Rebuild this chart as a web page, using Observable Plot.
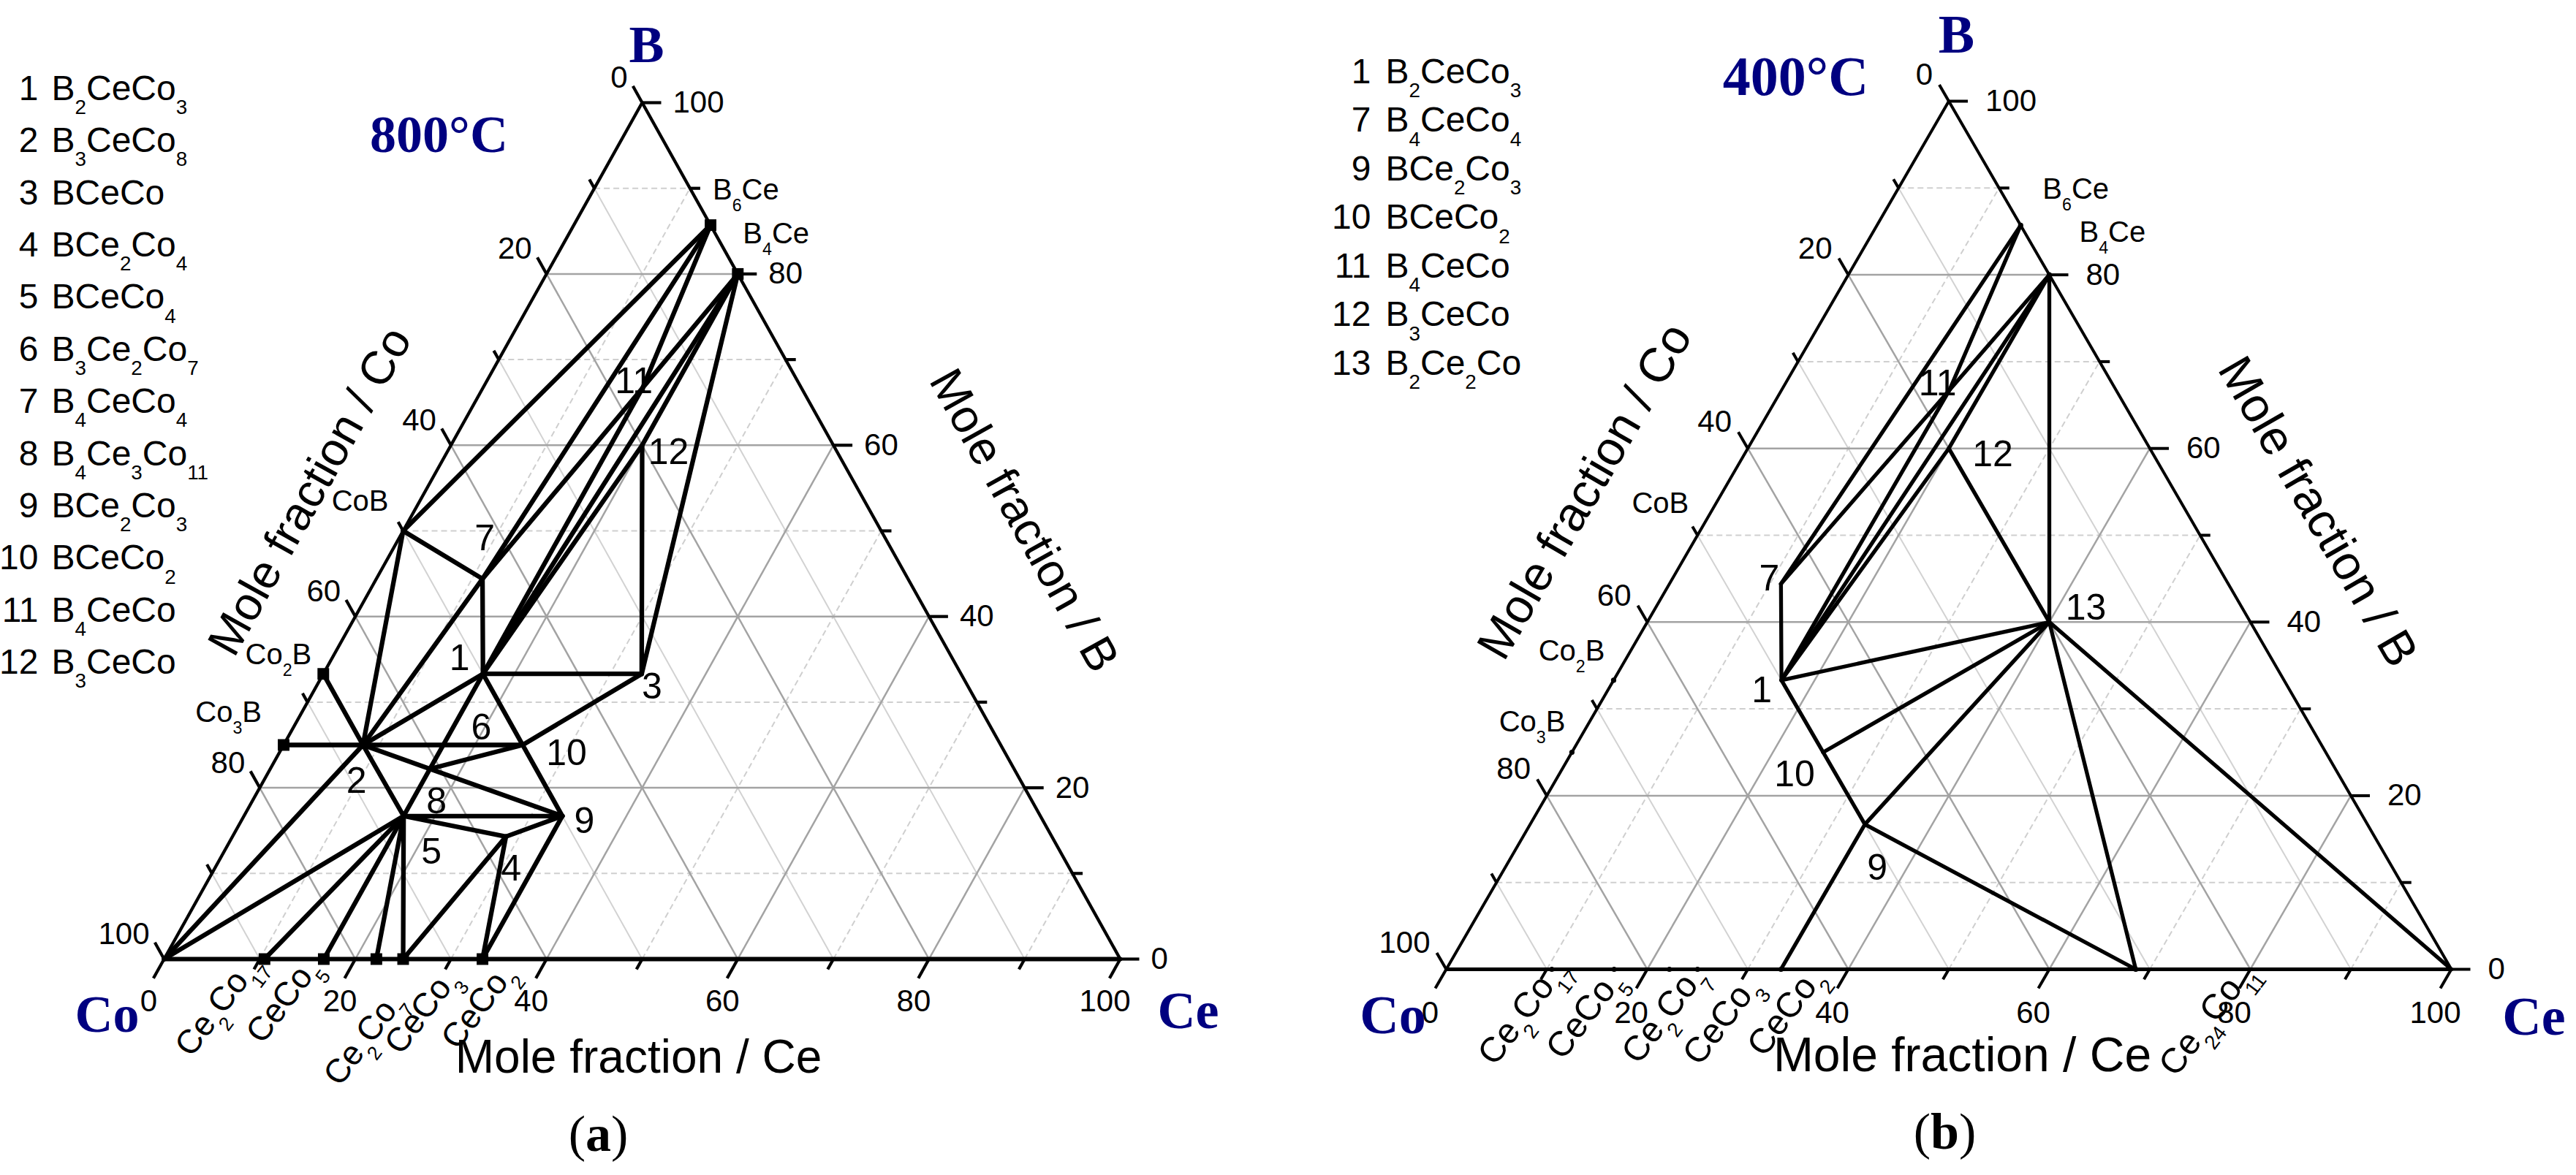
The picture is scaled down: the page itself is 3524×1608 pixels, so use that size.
<!DOCTYPE html>
<html><head><meta charset="utf-8">
<script src="https://cdn.jsdelivr.net/npm/d3@7"></script>
<script src="https://cdn.jsdelivr.net/npm/@observablehq/plot@0.6"></script>
<style>
body{margin:0;background:#fff;}
#fig{position:relative;width:3524px;height:1608px;overflow:hidden;background:#fff;}
#fig svg{position:absolute;top:0;overflow:visible;}
</style></head><body><div id="fig"></div>
<script>
// ---------- DATA (mole %, Co = 100 - B - Ce) ----------
const phaseNames = ["Co","Ce","B","B6Ce","B4Ce","CoB","Co2B","Co3B","Ce2Co17","CeCo5","Ce2Co7","CeCo3","CeCo2","Ce24Co11",
                    "1","2","3","4","5","6","7","8","9","10","11","12","13"];
const phaseB  = [0,0,100,85.7,80,50,33.3,25,0,0,0,0,0,0,
                 33.3,25,33.3,14.3,16.7,25,44.4,22.2,16.7,25,66.7,60,40];
const phaseCe = [0,100,0,14.3,20,0,0,0,10.5,16.7,22.2,25,33.3,68.6,
                 16.7,8.3,33.3,28.6,16.7,16.7,11.1,16.7,33.3,25,16.7,20,40];

const ties800 = [["CoB","B6Ce"],["CoB","7"],["CoB","2"],["Co2B","2"],["Co3B","2"],["Co","2"],["Co","5"],
  ["B6Ce","7"],["B6Ce","11"],["B4Ce","11"],["11","7"],["7","1"],["7","2"],["11","1"],["B4Ce","1"],
  ["B4Ce","12"],["12","1"],["12","3"],["B4Ce","3"],["1","3"],["1","2"],["1","8"],["1","10"],["2","10"],
  ["2","8"],["2","5"],["8","5"],["8","10"],["8","9"],["10","9"],["10","3"],["5","9"],["5","4"],["4","9"],
  ["5","Ce2Co17"],["5","CeCo5"],["5","Ce2Co7"],["5","CeCo3"],["CeCo3","4"],["CeCo2","4"],["CeCo2","9"]];
const ties400 = [["B6Ce","7"],["B6Ce","11"],["B4Ce","11"],["11","7"],["11","1"],["B4Ce","1"],["B4Ce","12"],
  ["12","1"],["12","13"],["B4Ce","13"],["7","1"],["1","10"],["10","9"],["1","13"],["10","13"],["9","13"],
  ["CeCo2","9"],["9","Ce24Co11"],["13","Ce24Co11"],["13","Ce"]];

const markers800 = ["B6Ce","B4Ce","Co2B","Co3B","Ce2Co17","CeCo5","Ce2Co7","CeCo3","CeCo2"];
const markers400 = ["B6Ce","B4Ce","Co2B","Co3B","Ce2Co17","CeCo5","Ce2Co7","CeCo3","CeCo2","Ce24Co11"];

const legendNums800 = ["1","2","3","4","5","6","7","8","9","10","11","12"];
const legendFormulas800 = ["B_2CeCo_3","B_3CeCo_8","BCeCo","BCe_2Co_4","BCeCo_4","B_3Ce_2Co_7","B_4CeCo_4",
  "B_4Ce_3Co_11","BCe_2Co_3","BCeCo_2","B_4CeCo","B_3CeCo"];
const legendNums400 = ["1","7","9","10","11","12","13"];
const legendFormulas400 = ["B_2CeCo_3","B_4CeCo_4","BCe_2Co_3","BCeCo_2","B_4CeCo","B_3CeCo","B_2Ce_2Co"];

const phaseLabels800 = ["1","2","3","4","5","6","7","8","9","10","11","12"];
const phaseLabels400 = ["1","7","9","10","11","12","13"];

const edgeNames = {B6Ce:"B_6Ce",B4Ce:"B_4Ce",CoB:"CoB",Co2B:"Co_2B",Co3B:"Co_3B",
  Ce2Co17:"Ce_2Co_17",CeCo5:"CeCo_5",Ce2Co7:"Ce_2Co_7",CeCo3:"CeCo_3",CeCo2:"CeCo_2",Ce24Co11:"Ce_24Co_11"};
const bottomCompounds800 = ["Ce2Co17","CeCo5","Ce2Co7","CeCo3","CeCo2"];
const bottomCompounds400 = ["Ce2Co17","CeCo5","Ce2Co7","CeCo3","CeCo2","Ce24Co11"];
const sideCompounds = ["B6Ce","B4Ce","CoB","Co2B","Co3B"];

const gridValues = [10,20,30,40,50,60,70,80,90];
const axisValues = [0,10,20,30,40,50,60,70,80,90,100];
const axisLabelValues = [0,20,40,60,80,100];

// ---------- LAYOUT ----------
const PH = Object.fromEntries(phaseNames.map((n,i)=>[n,{name:n,B:phaseB[i],Ce:phaseCe[i]}]));

const panelA = {
  left:0, width:1762, co:224, ce:1532, base:1312, apex:140,
  tieW:6.3, edgeW:4.3, baseW:5.8, tickW:4.2,
  ties:ties800, markers:markers800, markerR:9, markerSymbol:"square",
  legendNums:legendNums800, legendFormulas:legendFormulas800,
  legend:{numEnd:52, fStart:70, y0:121, dy:71.4, size:48},
  temp:{text:"800°C", x:600, y:184, size:72},
  corners:{B:[884,61], Co:[146,1388], Ce:[1625,1383], size:72},
  tag:{text:"(*a*)", x:818, y:1552, size:70},
  titles:{left:[424,672], right:[1400,712], bottom:[873,1447], size:64},
  tickLabel:{size:42, right:42, leftDx:-20, leftDy:-34, botDx:-21, botDy:58},
  numLabels:phaseLabels800, numSize:50,
  numOff:{"1":[-32,-21],"2":[-9,49],"3":[14,18],"4":[7,44],"5":[38,49],"6":[52,-24],"7":[3,-55],
          "8":[9,45],"9":[30,7],"10":[60,11],"11":[-12,-9],"12":[36,10]},
  side:{B6Ce:["start",3,-48],B4Ce:["start",7,-55],CoB:["end",-20,-40],Co2B:["end",-16,-26],Co3B:["end",-30,-44]},
  sideSize:40,
  bottom:bottomCompounds800, botSize:46, botRot:-53,
  botOff:{Ce2Co17:[-100,136],CeCo5:[-84,118],Ce2Co7:[-50,176],CeCo3:[-3,133],CeCo2:[-34,126]}
};
const panelB = {
  left:1762, width:1762, co:1978-1762, ce:3353-1762, base:1326, apex:138,
  tieW:5.3, edgeW:4, baseW:5, tickW:4,
  ties:ties400, markers:markers400, markerR:3.6, markerSymbol:"circle",
  legendNums:legendNums400, legendFormulas:legendFormulas400,
  legend:{numEnd:1875, fStart:1895, y0:98, dy:66.5, size:48},
  temp:{text:"400°C", x:2456, y:105, size:76},
  corners:{B:[2676,48], Co:[1905,1390], Ce:[3466,1392], size:74},
  tag:{text:"(*b*)", x:2660, y:1549, size:70},
  titles:{left:[2168,672], right:[3170,700], bottom:[2684,1444], size:66},
  tickLabel:{size:42, right:50, leftDx:-22, leftDy:-36, botDx:-22, botDy:60},
  numLabels:phaseLabels400, numSize:50,
  numOff:{"1":[-27,14],"7":[-16,-7],"9":[17,60],"10":[-39,30],"11":[-16,-9],"12":[60,8],"13":[50,-19]},
  side:{B6Ce:["start",30,-49],B4Ce:["start",41,-58],CoB:["end",-12,-43],Co2B:["end",-12,-40],Co3B:["end",-9,-41]},
  sideSize:40,
  bottom:bottomCompounds400, botSize:48, botRot:-53,
  botOff:{Ce2Co17:[-78,134],CeCo5:[-70,126],Ce2Co7:[-42,132],CeCo3:[3,134],CeCo2:[-23,122],Ce24Co11:[55,149]}
};

const SANS = "'Liberation Sans', Arial, sans-serif";
const SERIF = "'Liberation Serif', 'Times New Roman', serif";
const NAVY = "#000080";

function makePanel(cfg){
  const W = cfg.ce - cfg.co, H = cfg.base - cfg.apex;
  const X = p => p.Ce/100 + p.B/200, Y = p => p.B/100;
  const ux = gx => (gx - cfg.left - cfg.co)/W;
  const uy = gy => (cfg.base - gy)/H;
  const pt = (B,Ce) => ({B,Ce});
  const seg = (a,b,extra={}) => ({x1:X(a),y1:Y(a),x2:X(b),y2:Y(b),...extra});
  const ang = Math.atan2(H, W/2)*180/Math.PI;

  const grid = [];
  for (const v of gridValues){
    const major = v % 20 === 0;
    grid.push(seg(pt(v,0), pt(v,100-v), {kind: major?"major":"dash"}));     // constant B
    grid.push(seg(pt(0,v), pt(100-v,v), {kind: major?"major":"dash"}));     // constant Ce
    grid.push(seg(pt(100-v,0), pt(0,100-v), {kind: major?"major":"light"})); // constant Co
  }
  const sides = [seg(pt(0,0),pt(100,0)), seg(pt(100,0),pt(0,100))];
  const bottom = [seg(pt(0,0),pt(0,100))];
  const slant = Math.hypot(W/2, H);
  const ticks = [];
  for (const v of axisValues){
    const major = v % 20 === 0;
    const tb = (major ? 30 : 16)/slant, tl = (major ? 26 : 14)/slant, tr = (major ? 26 : 14)/W;
    ticks.push({x1:v/100, y1:0, x2:v/100 - tb/2, y2:-tb});                 // bottom, Ce = v
    const Bl = (100-v)/100;
    ticks.push({x1:Bl/2, y1:Bl, x2:-tl + (Bl+tl)/2, y2:Bl+tl});            // left, Co = v
    const Br = v/100, Cer = (100-v)/100;
    ticks.push({x1:Cer+Br/2, y1:Br, x2:Cer+tr+Br/2, y2:Br});               // right, B = v
  }
  const tl = cfg.tickLabel;
  const rightLabels = axisLabelValues.map(v => ({x:X(pt(v,100-v)) + tl.right/W, y:v/100, text:String(v)}));
  const leftLabels = axisLabelValues.map(v => ({x:X(pt(100-v,0)) + tl.leftDx/W, y:(100-v)/100 - tl.leftDy/H, text:String(v)}));
  const botLabels = axisLabelValues.map(v => ({x:v/100 + tl.botDx/W, y:-tl.botDy/H, text:String(v)}));

  const ties = cfg.ties.map(([a,b]) => seg(PH[a], PH[b]));
  const marks = cfg.markers.map(n => PH[n]);

  const num = cfg.numLabels.map(n => ({x:X(PH[n]) + cfg.numOff[n][0]/W, y:Y(PH[n]) - cfg.numOff[n][1]/H, text:n}));
  const sideStart = [], sideEnd = [];
  for (const n of sideCompounds){
    const [anchor, ox, oy] = cfg.side[n];
    (anchor === "start" ? sideStart : sideEnd).push({x:X(PH[n]) + ox/W, y:Y(PH[n]) - oy/H, text:edgeNames[n]});
  }
  const botComp = cfg.bottom.map(n => ({x:X(PH[n]) + cfg.botOff[n][0]/W, y:Y(PH[n]) - cfg.botOff[n][1]/H, text:edgeNames[n]}));

  const lg = cfg.legend;
  const legNums = cfg.legendNums.map((t,i) => ({x:ux(lg.numEnd), y:uy(lg.y0 + i*lg.dy), text:t}));
  const legForm = cfg.legendFormulas.map((t,i) => ({x:ux(lg.fStart), y:uy(lg.y0 + i*lg.dy), text:t}));

  const at = ([gx,gy], text) => ({x:ux(gx), y:uy(gy), text});
  const C = cfg.corners, Ti = cfg.titles;
  const L = {x1:"x1",y1:"y1",x2:"x2",y2:"y2"};
  const T = {x:"x",y:"y",text:"text"};

  const svg = Plot.plot({
    width:cfg.width, height:1608, margin:0,
    x:{domain:[0,1], range:[cfg.co, cfg.ce], axis:null},
    y:{domain:[0,1], range:[cfg.base, cfg.apex], axis:null},
    style:{fontFamily:SANS, background:"transparent", overflow:"visible"},
    marks:[
      Plot.link(grid.filter(g=>g.kind==="light"), {...L, stroke:"#d2d2d2", strokeWidth:2}),
      Plot.link(grid.filter(g=>g.kind==="dash"), {...L, stroke:"#cfcfcf", strokeWidth:2, strokeDasharray:"8,5"}),
      Plot.link(grid.filter(g=>g.kind==="major"), {...L, stroke:"#a3a3a3", strokeWidth:2.5}),
      Plot.link(ticks, {...L, stroke:"#000", strokeWidth:cfg.tickW}),
      Plot.link(sides, {...L, stroke:"#000", strokeWidth:cfg.edgeW, strokeLinecap:"round"}),
      Plot.link(bottom, {...L, stroke:"#000", strokeWidth:cfg.baseW, strokeLinecap:"round"}),
      Plot.link(ties, {...L, stroke:"#000", strokeWidth:cfg.tieW, strokeLinecap:"round"}),
      Plot.dot(marks, {x:X, y:Y, r:cfg.markerR, symbol:cfg.markerSymbol, fill:"#000", stroke:"none"}),
      Plot.text(rightLabels, {...T, fontSize:tl.size, textAnchor:"start", ariaLabel:"narrow-0.88"}),
      Plot.text(leftLabels, {...T, fontSize:tl.size, textAnchor:"end", ariaLabel:"narrow-0.88"}),
      Plot.text(botLabels, {...T, fontSize:tl.size, textAnchor:"middle", ariaLabel:"narrow-0.88"}),
      Plot.text(sideStart, {...T, fontSize:cfg.sideSize, textAnchor:"start"}),
      Plot.text(sideEnd, {...T, fontSize:cfg.sideSize, textAnchor:"end"}),
      Plot.text(botComp, {...T, fontSize:cfg.botSize, textAnchor:"start", lineAnchor:"bottom", rotate:cfg.botRot}),
      Plot.text(num, {...T, fontSize:cfg.numSize, textAnchor:"middle", ariaLabel:"narrow-0.9"}),
      Plot.text(legNums, {...T, fontSize:lg.size, textAnchor:"end"}),
      Plot.text(legForm, {...T, fontSize:lg.size, textAnchor:"start"}),
      Plot.text([at(Ti.left,"Mole fraction / Co")], {...T, fontSize:Ti.size, rotate:-ang, ariaLabel:"narrow-0.92"}),
      Plot.text([at(Ti.right,"Mole fraction / B")], {...T, fontSize:Ti.size, rotate:ang, ariaLabel:"narrow-0.92"}),
      Plot.text([at(Ti.bottom,"Mole fraction / Ce")], {...T, fontSize:Ti.size, ariaLabel:"narrow-0.92"}),
      Plot.text([at(C.B,"B"), at(C.Co,"Co"), at(C.Ce,"Ce")], {...T, fontSize:C.size, fontFamily:SERIF, fontWeight:"bold", fill:NAVY}),
      Plot.text([at([cfg.temp.x,cfg.temp.y], cfg.temp.text)], {...T, fontSize:cfg.temp.size, fontFamily:SERIF, fontWeight:"bold", fill:NAVY}),
      Plot.text([at([cfg.tag.x,cfg.tag.y], cfg.tag.text)], {...T, fontSize:cfg.tag.size, fontFamily:SERIF})
    ]
  });
  svg.style.left = cfg.left + "px";
  return svg;
}

// narrow (condensed) look for some sans texts
function narrow(root){
  root.querySelectorAll('g[aria-label^="narrow-"]').forEach(g => {
    const s = parseFloat(g.getAttribute("aria-label").slice(7));
    g.querySelectorAll("text").forEach(t => {
      let tr = t.getAttribute("transform");
      if (!tr){
        const x = +(t.getAttribute("x") || 0), y = +(t.getAttribute("y") || 0);
        t.removeAttribute("x"); t.removeAttribute("y");
        tr = `translate(${x},${y})`;
      }
      t.setAttribute("transform", tr + ` scale(${s},1)`);
    });
  });
}

function richText(root){
  root.querySelectorAll("text").forEach(t => {
    const s = t.textContent;
    if (!/[_*]/.test(s)) return;
    const F = parseFloat(getComputedStyle(t).fontSize) || 40;
    while (t.firstChild) t.removeChild(t.firstChild);
    const re = /_(\d+)|\*([^*]+)\*|([^_*]+)/g;
    let m, shifted = false;
    while ((m = re.exec(s))){
      const ts = document.createElementNS("http://www.w3.org/2000/svg","tspan");
      if (m[1] !== undefined){
        ts.textContent = m[1];
        ts.setAttribute("font-size", (0.58*F).toFixed(1));
        if (!shifted){ ts.setAttribute("dy", (0.4*F).toFixed(1)); shifted = true; }
      } else {
        ts.textContent = m[2] !== undefined ? m[2] : m[3];
        if (m[2] !== undefined) ts.setAttribute("font-weight","bold");
        if (shifted){ ts.setAttribute("dy", (-0.4*F).toFixed(1)); shifted = false; }
      }
      t.appendChild(ts);
    }
  });
}

const fig = document.getElementById("fig");
for (const cfg of [panelA, panelB]){
  const svg = makePanel(cfg);
  fig.appendChild(svg);
  richText(svg);
  narrow(svg);
}
</script></body></html>
